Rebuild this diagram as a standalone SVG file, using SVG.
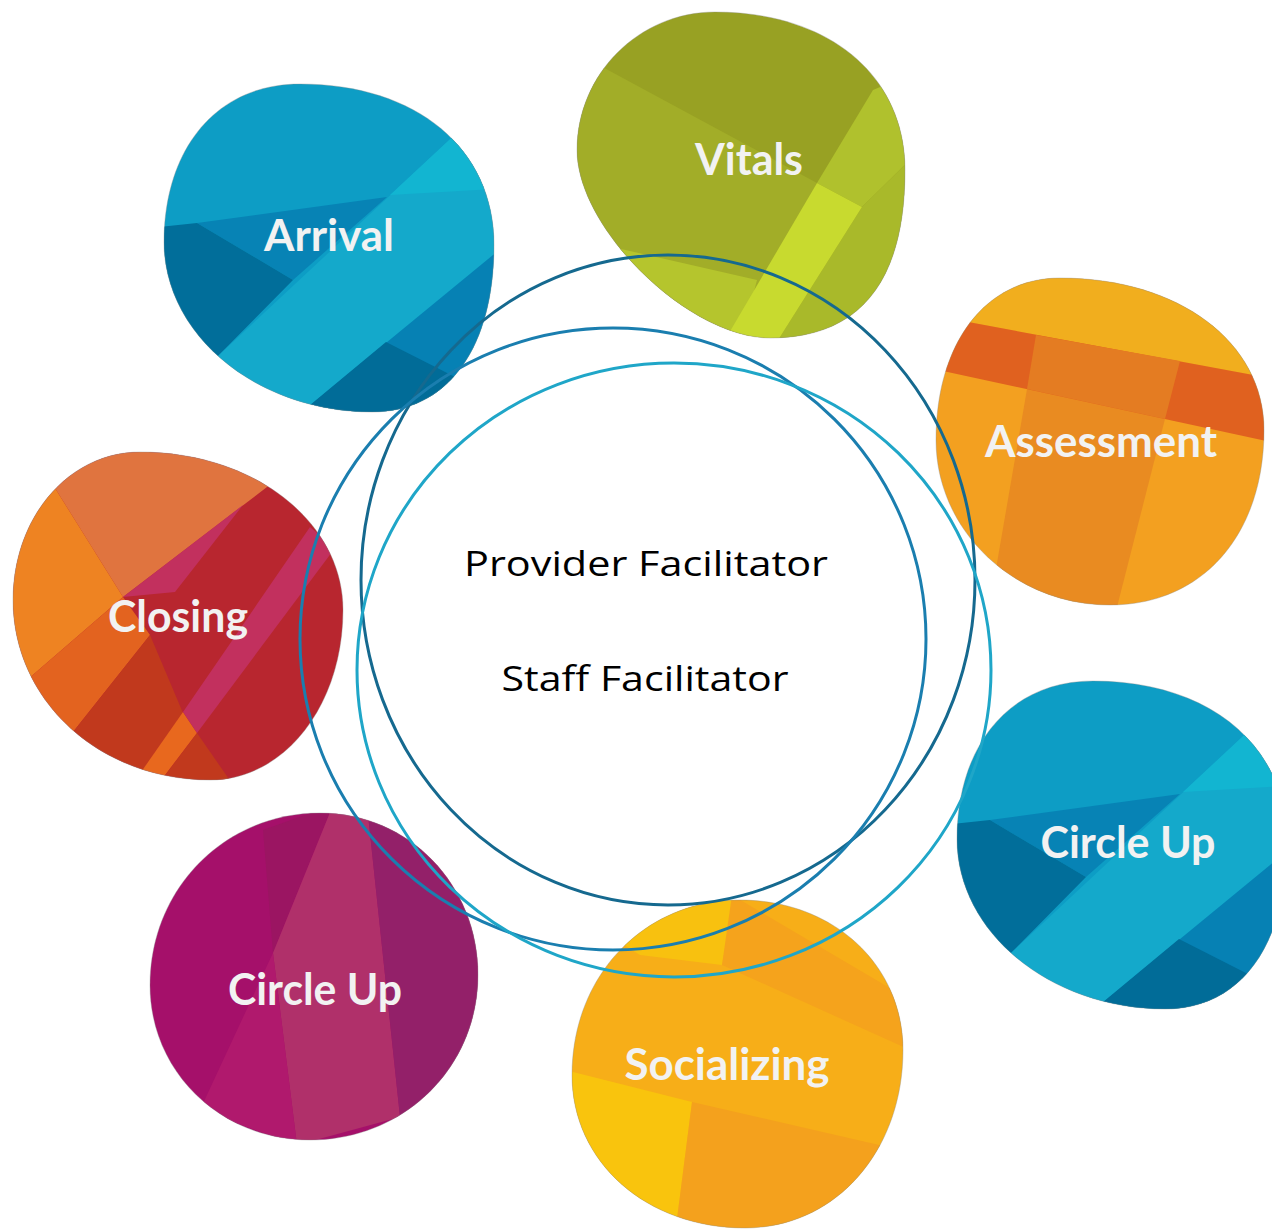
<svg xmlns="http://www.w3.org/2000/svg" xmlns:xlink="http://www.w3.org/1999/xlink" width="1272" height="1229" viewBox="0 0 1272 1229">
<style>
.lbl{font-family:Lato,"Liberation Sans","DejaVu Sans",sans-serif;font-weight:700;font-size:43px;fill:#f2f2f2;text-anchor:middle}
.ctr{font-family:"Open Sans","Liberation Sans","DejaVu Sans",sans-serif;font-size:35px;fill:#000;text-anchor:middle}
.edge{fill:none;stroke:#8a8a8a;stroke-opacity:0.35;stroke-width:1}
.ring{fill:none;stroke-width:3}
</style>
<defs>
<clipPath id="cArr"><path id="pArr" d="M300,84 C416.4,84 494,148.4 494,245 C494,348.5 447.6,412 372,412 C257.6,412 164,335.5 164,242 C164,150.4 215,84 300,84 Z"/></clipPath>
<clipPath id="cVit"><path id="pVit" d="M715,12 C829,12 905,75.2 905,170 C905,279.2 862,338 770,338 C689,338 577,229 577,150 C577,74.1 639.1,12 715,12 Z"/></clipPath>
<clipPath id="cAss"><path id="pAss" d="M1060,278 C1178.3,278 1264,341.8 1264,430 C1264,535 1202.4,605 1110,605 C1014.3,605 936,530.8 936,440 C936,342.8 985.6,278 1060,278 Z"/></clipPath>
<clipPath id="cClo"><path id="pClo" d="M140,452 C253.7,452 343,521.5 343,610 C343,705.2 284.5,780 210,780 C99.7,780 13,700.8 13,600 C13,517.1 68.9,452 140,452 Z"/></clipPath>
<clipPath id="cCu"><path id="pCu" d="M320,813 C408.5,813 478,884.3 478,975 C478,1067.4 404.1,1140 310,1140 C220.4,1140 150,1071.8 150,985 C150,888.7 224.8,813 320,813 Z"/></clipPath>
<clipPath id="cSoc"><path id="pSoc" d="M740,900 C832.9,900 903,964.5 903,1050 C903,1151.5 835.1,1228 745,1228 C646.4,1228 572,1162.2 572,1075 C572,975.3 644.2,900 740,900 Z"/></clipPath>
<g id="blueArt">
  <g clip-path="url(#cArr)">
    <rect x="150" y="70" width="360" height="360" fill="#0d9dc5"/>
    <polygon points="197,223 387,197 293,280" fill="#0783b5"/>
    <polygon points="140,229 197,223 293,280 217,357 140,440" fill="#016e9a"/>
    <polygon points="128,440 535,60 560,60 560,200 268,440" fill="#14a9cb"/>
    <polygon points="390,195 535,60 560,60 560,185" fill="#12b5d1"/>
    <polygon points="268,440 560,200 560,440" fill="#0681b4"/>
    <polygon points="268,440 386,342 510,405 510,440" fill="#016c98"/>
  </g>
  <use xlink:href="#pArr" class="edge"/>
</g>
</defs>

<g id="node-arrival">
  <use xlink:href="#blueArt"/>
  <text class="lbl" x="329" y="251" textLength="130" lengthAdjust="spacingAndGlyphs">Arrival</text>
</g>

<g id="node-vitals">
  <g clip-path="url(#cVit)">
    <rect x="560" y="0" width="360" height="350" fill="#98a123"/>
    <polygon points="560,44 817,183 727,345 560,345" fill="#a2ad28"/>
    <polygon points="560,235 757,280 740,345 560,345" fill="#b5c52d"/>
    <polygon points="873,90 920,70 920,150 862,207 817,183" fill="#b0c12d"/>
    <polygon points="920,150 920,345 775,345 862,207" fill="#a9b92a"/>
    <polygon points="817,183 862,207 775,345 722,345" fill="#c8da2f"/>
  </g>
  <use xlink:href="#pVit" class="edge"/>
  <text class="lbl" x="749" y="175" textLength="108" lengthAdjust="spacingAndGlyphs">Vitals</text>
</g>

<g id="node-assessment">
  <g clip-path="url(#cAss)">
    <rect x="925" y="265" width="350" height="350" fill="#f3a020"/>
    <polygon points="925,265 1275,265 1275,379 925,314" fill="#f1ae1e"/>
    <polygon points="1027,389 1165,419 1115,615 988,615" fill="#e98b21"/>
    <polygon points="925,314 1275,379 1275,443 925,367" fill="#e0611f"/>
    <polygon points="1036,335 1180,361 1165,419 1027,389" fill="#e47c22"/>
  </g>
  <use xlink:href="#pAss" class="edge"/>
  <text class="lbl" x="1101" y="457" textLength="232" lengthAdjust="spacingAndGlyphs">Assessment</text>
</g>

<g id="node-closing">
  <g clip-path="url(#cClo)">
    <rect x="0" y="440" width="350" height="350" fill="#b8262f"/>
    <polygon points="25,440 340,440 267,487 123,597" fill="#e0743f"/>
    <polygon points="0,440 25,440 123,597 27,680 0,680" fill="#ee8322"/>
    <polygon points="0,680 27,680 123,597 150,635 73,732 0,760" fill="#e3631f"/>
    <polygon points="0,760 73,732 150,635 183,713 125,795 0,800" fill="#c1391d"/>
    <polygon points="183,712 197,733 150,795 125,795" fill="#e8681e"/>
    <polygon points="197,733 240,795 150,795" fill="#c1391d"/>
    <polygon points="123,597 243,505 175,592" fill="#c2305e"/>
    <polygon points="310,527 335,548 197,733 183,712" fill="#c2305e"/>
  </g>
  <use xlink:href="#pClo" class="edge"/>
  <text class="lbl" x="178" y="632" textLength="140" lengthAdjust="spacingAndGlyphs">Closing</text>
</g>

<g id="node-circle-up-right">
  <use xlink:href="#blueArt" transform="translate(793,597)"/>
  <text class="lbl" x="1128" y="858" textLength="175" lengthAdjust="spacingAndGlyphs">Circle Up</text>
</g>

<g id="node-socializing">
  <g clip-path="url(#cSoc)">
    <rect x="560" y="890" width="350" height="345" fill="#f7ae18"/>
    <polygon points="600,930 735,895 722,965 640,955" fill="#f8c10f"/>
    <polygon points="732,895 910,1000 910,1050 722,965" fill="#f5a31c"/>
    <polygon points="565,1070 692,1102 675,1235 565,1235" fill="#f9c40d"/>
    <polygon points="692,1102 910,1152 910,1235 675,1235" fill="#f4a11d"/>
  </g>
  <use xlink:href="#pSoc" class="edge"/>
  <text class="lbl" x="727" y="1080" textLength="205" lengthAdjust="spacingAndGlyphs">Socializing</text>
</g>

<g id="node-circle-up-left">
  <g clip-path="url(#cCu)">
    <rect x="140" y="800" width="350" height="350" fill="#a5106a"/>
    <polygon points="263,830 333,805 273,953" fill="#9b1562"/>
    <polygon points="333,805 367,805 400,1117 297,1145 273,953" fill="#b0306a"/>
    <polygon points="367,805 490,905 490,1080 400,1117" fill="#932069"/>
    <polygon points="273,953 297,1145 200,1110" fill="#b0196d"/>
  </g>
  <use xlink:href="#pCu" class="edge"/>
  <text class="lbl" x="315" y="1005" textLength="174" lengthAdjust="spacingAndGlyphs">Circle Up</text>
</g>

<g id="connectors">
  <ellipse class="ring" cx="668" cy="580" rx="307" ry="325" stroke="#15698f"/>
  <ellipse class="ring" cx="613" cy="639" rx="313" ry="311" stroke="#1a7eaf"/>
  <ellipse class="ring" cx="674" cy="670" rx="317" ry="307" stroke="#1fa6c8"/>
</g>

<g id="node-center">
  <text class="ctr" x="646" y="576" textLength="364" lengthAdjust="spacingAndGlyphs">Provider Facilitator</text>
  <text class="ctr" x="645" y="691" textLength="287" lengthAdjust="spacingAndGlyphs">Staff Facilitator</text>
</g>
</svg>
